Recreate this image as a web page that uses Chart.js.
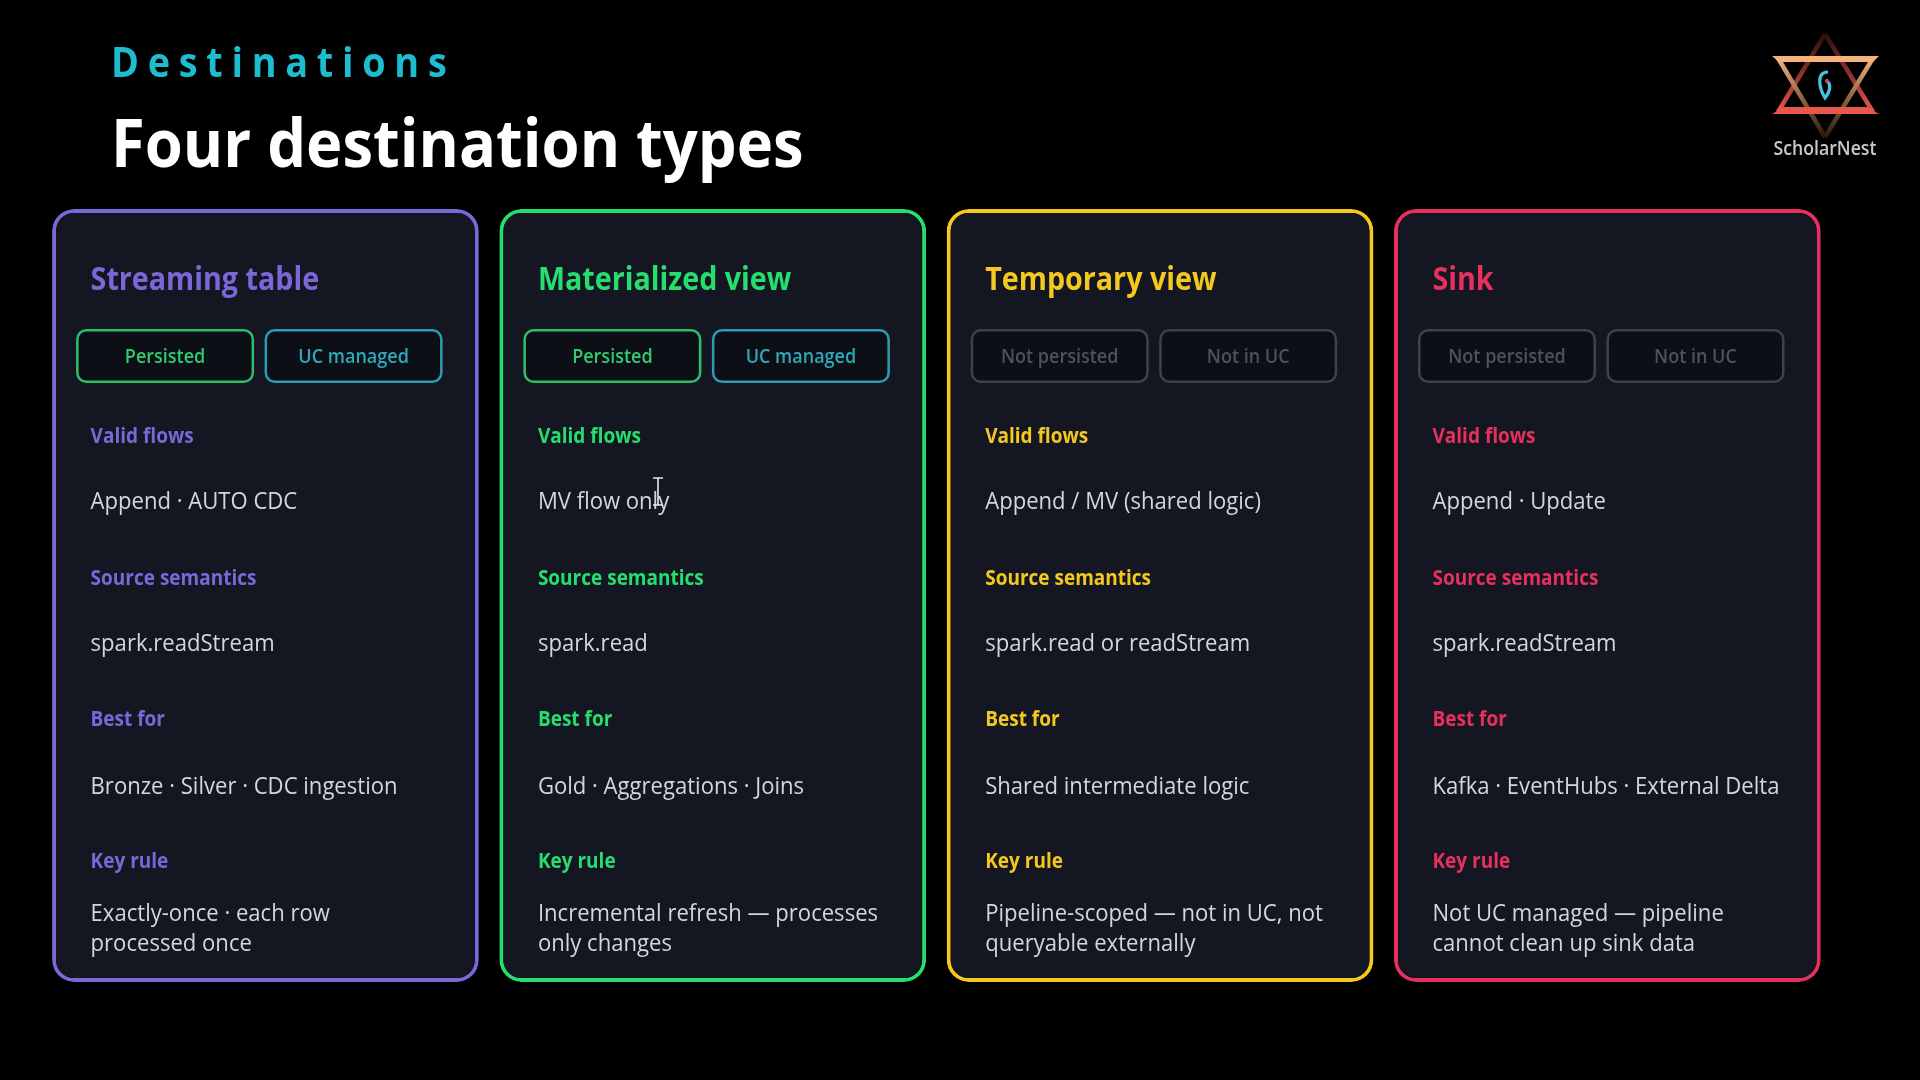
<!DOCTYPE html>
<html><head><meta charset="utf-8">
<style>html,body{margin:0;padding:0;background:#000;overflow:hidden}canvas{display:block}</style>
<script src="https://cdn.jsdelivr.net/npm/chart.js@4"></script></head>
<body><div style="width:1920px;height:1080px;position:relative"><canvas id="c" width="1920" height="1080"></canvas></div>
<script>
const eyebrow = "Destinations";
const heading = "Four destination types";
const brand = "ScholarNest";
const categories = ["Streaming table","Materialized view","Temporary view","Sink"];
const cardSpans = [[0,1],[0,1],[0,1],[0,1]];
const cardColors = ["#7a68d8","#25de6e","#f4c81e","#e8305f"];
const persistBadges = ["Persisted","Persisted","Not persisted","Not persisted"];
const catalogBadges = ["UC managed","UC managed","Not in UC","Not in UC"];
const sectionLabels = ["Valid flows","Source semantics","Best for","Key rule"];
const validFlows = ["Append · AUTO CDC","MV flow only","Append / MV (shared logic)","Append · Update"];
const sourceSemantics = ["spark.readStream","spark.read","spark.read or readStream","spark.readStream"];
const bestFor = ["Bronze · Silver · CDC ingestion","Gold · Aggregations · Joins","Shared intermediate logic","Kafka · EventHubs · External Delta"];
const keyRuleLine1 = ["Exactly-once · each row","Incremental refresh — processes","Pipeline-scoped — not in UC, not","Not UC managed — pipeline"];
const keyRuleLine2 = ["processed once","only changes","queryable externally","cannot clean up sink data"];

const FAM = '"Open Sans"';
function txt(ctx,s,x,y,font,color,sx,align,spacing){
  ctx.save();ctx.font=font;ctx.fillStyle=color;ctx.textBaseline='alphabetic';ctx.textAlign=align||'left';
  if(spacing)ctx.letterSpacing=spacing;
  ctx.translate(x,y);ctx.scale(sx||1,1);ctx.fillText(s,0,0);ctx.restore();
}
function badge(ctx,x,y,w,h,border,label,color){
  ctx.save();ctx.beginPath();ctx.roundRect(x+1.25,y+1.25,w-2.5,h-2.5,9);
  ctx.fillStyle='#0c0f16';ctx.fill();ctx.lineWidth=2.5;ctx.strokeStyle=border;ctx.stroke();ctx.restore();
  txt(ctx,label,x+w/2,y+34,'600 20px '+FAM,color,0.9,'center');
}
function edge(ctx,p,stops,lw){
  ctx.save();ctx.lineWidth=lw;ctx.lineCap='butt';
  const g=ctx.createLinearGradient(p[0],p[1],p[2],p[3]);
  g.addColorStop(0,stops[0]);g.addColorStop(1,stops[1]);
  ctx.strokeStyle=g;ctx.beginPath();ctx.moveTo(p[0],p[1]);ctx.lineTo(p[2],p[3]);ctx.stroke();ctx.restore();
}
const pagePlugin={id:'page',
 beforeDatasetsDraw(chart){
  const ctx=chart.ctx;
  txt(ctx,eyebrow,111,77,'700 42px '+FAM,'#1dbccf',0.9,'left','9.7px');
  txt(ctx,heading,111,167,'700 66px '+FAM,'#ffffff',0.932);
  // logo
  edge(ctx,[1825,34,1778,112],['#2a0f0c','#e8574a'],4.5);
  edge(ctx,[1825,34,1873,112],['#2a0f0c','#e8574a'],4.5);
  edge(ctx,[1825,137,1778,58],['#2a1a0c','#f5b27c'],4.5);
  edge(ctx,[1825,137,1873,58],['#2a1a0c','#f5b27c'],4.5);
  ctx.save();
  ctx.fillStyle='#e8574a';ctx.beginPath();ctx.moveTo(1784,107);ctx.lineTo(1867,107);ctx.lineTo(1879,114);ctx.lineTo(1772,114);ctx.closePath();ctx.fill();
  ctx.fillStyle='#f5b27c';ctx.beginPath();ctx.moveTo(1772,56);ctx.lineTo(1879,56);ctx.lineTo(1873,62);ctx.lineTo(1779,62);ctx.closePath();ctx.fill();
  ctx.strokeStyle='#43c6de';ctx.lineWidth=3.2;ctx.beginPath();ctx.moveTo(1828,72);ctx.bezierCurveTo(1816,72,1819,88,1825,98);ctx.bezierCurveTo(1830,92,1832,84,1826,80);ctx.stroke();
  ctx.fillStyle='#e03a60';ctx.beginPath();ctx.arc(1827,81,2,0,7);ctx.fill();ctx.restore();
  txt(ctx,brand,1825,155,'600 19px '+FAM,'#c9c9c9',0.93,'center');
 },
 afterDatasetsDraw(chart){
  const ctx=chart.ctx, bars=chart.getDatasetMeta(0).data;
  bars.forEach((b,i)=>{
   const L=b.x-b.width/2, tx=L+38.5, col=cardColors[i], on=i<2;
   txt(ctx,categories[i],tx,290,'700 32px '+FAM,col,0.896);
   badge(ctx,L+24,329,178,54,on?'#2fbf68':'#3b4252',persistBadges[i],on?'#2ecc71':'#4b5262');
   badge(ctx,L+212.5,329,178,54,on?'#2a9fb0':'#3b4252',catalogBadges[i],on?'#2fa9ba':'#4b5262');
   const lf='700 21px '+FAM, bf='400 24px '+FAM, body='#d3d6dc';
   const ly=[443,585,726,868], by=[509,651,794];
   const rows=[validFlows,sourceSemantics,bestFor];
   sectionLabels.forEach((s,k)=>txt(ctx,s,tx,ly[k],lf,col,0.905));
   rows.forEach((r,k)=>txt(ctx,r[i],tx,by[k],bf,body,0.92));
   txt(ctx,keyRuleLine1[i],tx,921,bf,body,0.92);
   txt(ctx,keyRuleLine2[i],tx,951,bf,body,0.92);
  });
  // text-cursor caught in the recording
  ctx.save();ctx.strokeStyle='#e8e8e8';ctx.lineWidth=1.6;ctx.beginPath();
  ctx.moveTo(658,478);ctx.lineTo(658,505);ctx.moveTo(653,478);ctx.lineTo(663,478);ctx.moveTo(653,505);ctx.lineTo(663,505);ctx.stroke();ctx.restore();
 }};
new Chart(document.getElementById('c'),{
 type:'bar',
 data:{labels:categories,datasets:[{data:cardSpans,backgroundColor:'#141722',borderColor:cardColors,borderWidth:4,borderRadius:22,borderSkipped:false,barPercentage:1,categoryPercentage:0.954}]},
 options:{responsive:false,devicePixelRatio:1,animation:false,
  layout:{padding:{left:41.8,right:89,top:209,bottom:98}},
  plugins:{legend:{display:false},title:{display:false},tooltip:{enabled:false}},
  scales:{x:{display:false},y:{display:false,min:0,max:1}}},
 plugins:[pagePlugin]
});
</script></body></html>
